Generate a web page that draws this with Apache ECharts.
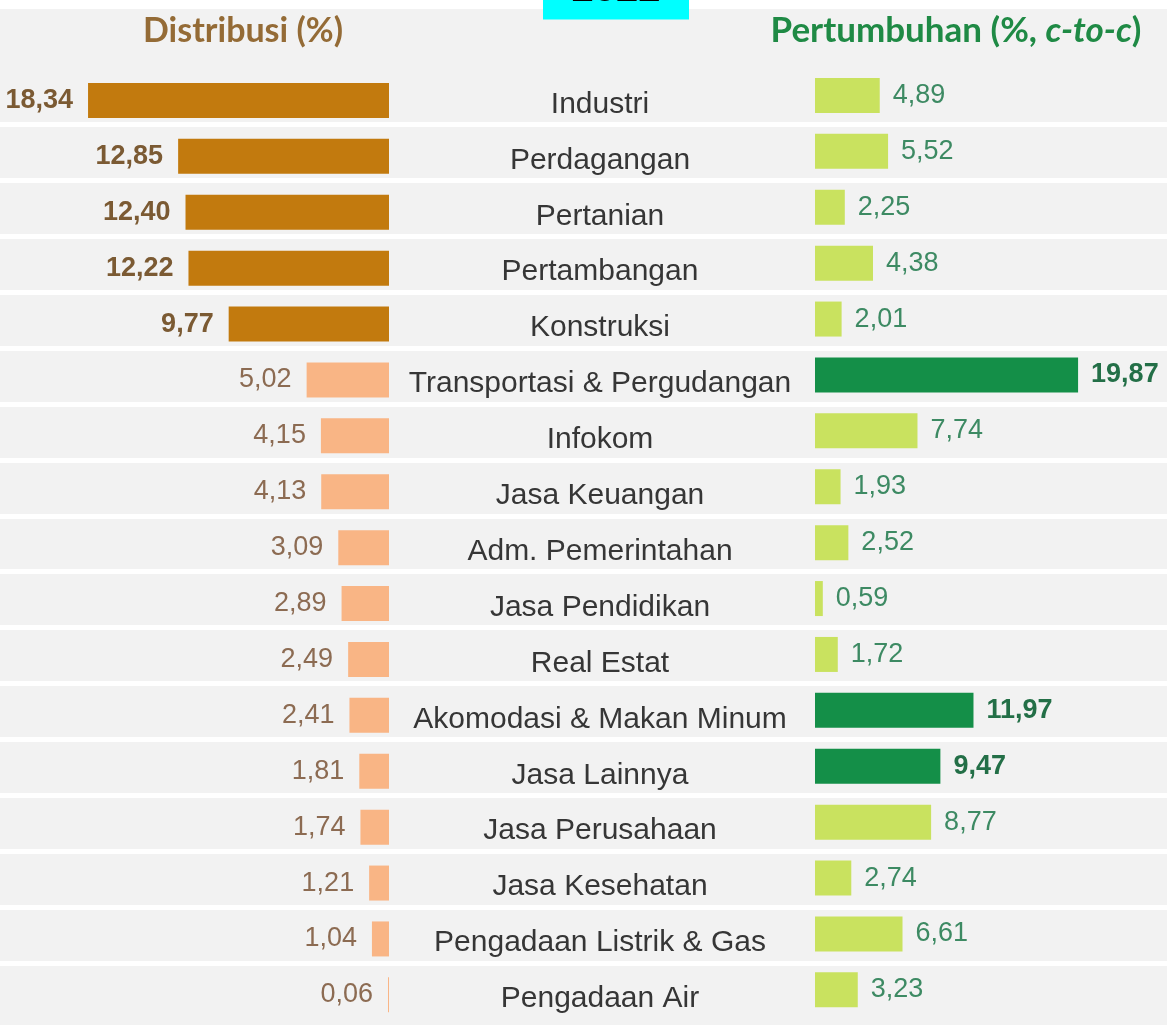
<!DOCTYPE html>
<html><head><meta charset="utf-8">
<script src="https://cdn.jsdelivr.net/npm/echarts@6/dist/echarts.min.js"></script>
<style>html,body{margin:0;padding:0;background:#fff}#c{width:1167px;height:1031px}</style>
</head><body><div id="c"></div>
<script>
const categories = ['Industri','Perdagangan','Pertanian','Pertambangan','Konstruksi','Transportasi & Pergudangan','Infokom','Jasa Keuangan','Adm. Pemerintahan','Jasa Pendidikan','Real Estat','Akomodasi & Makan Minum','Jasa Lainnya','Jasa Perusahaan','Jasa Kesehatan','Pengadaan Listrik & Gas','Pengadaan Air'];
const distribusi = [18.34,12.85,12.40,12.22,9.77,5.02,4.15,4.13,3.09,2.89,2.49,2.41,1.81,1.74,1.21,1.04,0.06];
const pertumbuhan = [4.89,5.52,2.25,4.38,2.01,19.87,7.74,1.93,2.52,0.59,1.72,11.97,9.47,8.77,2.74,6.61,3.23];
const leftTitle = 'Distribusi (%)';
const yearLabel = '2022';

const ROW = 55.9, N = categories.length, H = ROW * N;
const HL = 9; // values above this are highlighted
const fmt = v => v.toFixed(2).replace('.', ',');
const numFont = '"Liberation Sans", Arial, sans-serif';

function leftData() {
  return distribusi.map(v => {
    const hi = v > HL;
    return {
      value: v,
      itemStyle: {color: hi ? '#C27A0E' : '#F9B585'},
      label: {color: hi ? '#7b5a33' : '#8c6b52', fontWeight: hi ? 'bold' : 'normal'}
    };
  });
}
function rightData() {
  return pertumbuhan.map(v => {
    const hi = v > HL;
    return {
      value: v,
      itemStyle: {color: hi ? '#148F48' : '#C9E25F'},
      label: {color: hi ? '#236f47' : '#3d8a63', fontWeight: hi ? 'bold' : 'normal'}
    };
  });
}

const chart = echarts.init(document.getElementById('c'), null, {renderer: 'canvas'});
const hiddenCat = {type: 'category', data: categories, inverse: true, axisLine: {show: false}, axisTick: {show: false}, axisLabel: {show: false}, splitLine: {show: false}};

chart.setOption({
  backgroundColor: '#ffffff',
  animation: false,
  graphic: [
    {type: 'rect', z: -10, shape: {x: 0, y: 9, width: 1167, height: 1016}, style: {fill: '#f2f2f2'}},
    {type: 'rect', z: 10, shape: {x: 543, y: 0, width: 146, height: 19.5}, style: {fill: '#00ffff'}},
    {type: 'text', z: 11, x: 616, y: -30, style: {text: yearLabel, font: 'bold 40px "Liberation Sans", Arial, sans-serif', fill: '#000', textAlign: 'center', textVerticalAlign: 'top', lineHeight: 40}},
    {type: 'text', z: 11, x: 243, y: 31, style: {text: leftTitle, font: 'bold 34px Lato, "Open Sans", sans-serif', fill: '#946b36', textAlign: 'center', textVerticalAlign: 'middle'}},
    {type: 'text', z: 11, x: 956, y: 31, style: {
      text: '{b|Pertumbuhan (%, }{i|c-to-c}{b|)}', textAlign: 'center', textVerticalAlign: 'middle',
      rich: {
        b: {font: 'bold 35px Lato, "Open Sans", sans-serif', fill: '#1f8a45'},
        i: {font: 'italic bold 35px Lato, "Open Sans", sans-serif', fill: '#1f8a45'}
      }}}
  ],
  grid: [
    {left: 0, width: 389, top: 72.5, height: H},
    {left: 815, width: 352, top: 67.5, height: H},
    {left: 400, width: 400, top: 76.5, height: H},
    {left: 0, width: 1167, top: 68.6, height: H}
  ],
  xAxis: [
    {gridIndex: 0, type: 'value', min: 0, max: 389 / 16.41, inverse: true, show: false},
    {gridIndex: 1, type: 'value', min: 0, max: 352 / 13.24, show: false},
    {gridIndex: 2, type: 'value', min: 0, max: 1, show: false},
    {gridIndex: 3, type: 'value', min: 0, max: 1, show: false}
  ],
  yAxis: [
    Object.assign({gridIndex: 0}, hiddenCat),
    Object.assign({gridIndex: 1}, hiddenCat),
    {gridIndex: 2, type: 'category', data: categories, inverse: true, position: 'left',
      axisLine: {show: false}, axisTick: {show: false}, splitLine: {show: false},
      axisLabel: {show: true, align: 'center', margin: -200, fontSize: 30, color: '#363636',
        fontFamily: '"Liberation Sans", Arial, sans-serif'}},
    {gridIndex: 3, type: 'category', data: categories, inverse: true,
      axisLine: {show: false}, axisTick: {show: false}, axisLabel: {show: false},
      splitLine: {show: true, showMinLine: false, showMaxLine: false, lineStyle: {color: '#ffffff', width: 5}}}
  ],
  series: [
    {type: 'bar', xAxisIndex: 0, yAxisIndex: 0, data: leftData(), barWidth: 35,
      label: {show: true, position: 'left', distance: 15, fontSize: 27, fontFamily: numFont,
        formatter: p => fmt(p.value)}},
    {type: 'bar', xAxisIndex: 1, yAxisIndex: 1, data: rightData(), barWidth: 35,
      label: {show: true, position: 'right', distance: 13, fontSize: 27, fontFamily: numFont,
        formatter: p => fmt(p.value)}}
  ]
});
</script>
</body></html>
